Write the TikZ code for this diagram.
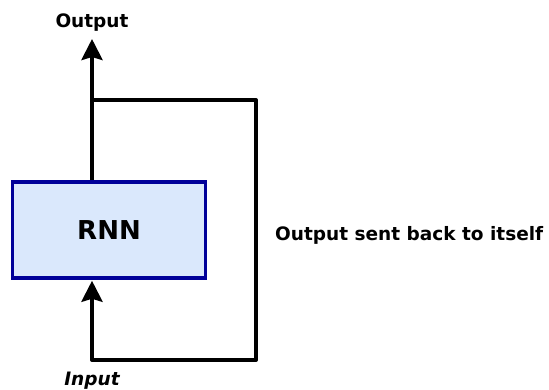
\documentclass[tikz,border=0pt]{standalone}
\usepackage{fontspec}
\setmainfont{DejaVu Sans}
\usetikzlibrary{arrows.meta}
\definecolor{boxfill}{HTML}{DAE8FC}
\definecolor{boxdraw}{HTML}{000099}
\tikzset{
  x=1pt,y=1pt,
  rnnbox/.style={draw=boxdraw,fill=boxfill,line width=3.5pt,minimum width=193pt,minimum height=96pt,inner sep=0pt},
  conn/.style={line width=4pt,black},
  arr/.style={conn,-{Stealth[length=21pt,width=21pt,inset=3pt]}},
  lbl/.style={font=\bfseries\fontsize{18.5}{22}\selectfont,inner sep=0pt}
}
\begin{document}
\begin{tikzpicture}
\useasboundingbox (0,0) rectangle (549,389);
\node[rnnbox] (rnn) at (109,159) {};
\node[font=\bfseries\fontsize{26}{30}\selectfont] at (rnn.center) {RNN};
\coordinate (top) at (92,350);
\coordinate (branch) at (92,289);
\coordinate (tr) at (256,289);
\coordinate (br) at (256,29);
\coordinate (bl) at (92,29);
\node[lbl,anchor=base] (outlbl) at (92,361) {Output};
\node[lbl,anchor=base,font=\bfseries\itshape\fontsize{18.5}{22}\selectfont] (inlbl) at (92,4) {Input};
\node[lbl,anchor=base west] (fb) at (275,149) {Output sent back to itself};
\draw[arr] (rnn.north -| branch) -- (top);
\draw[conn,line join=round] (branch) -- (tr) -- (br) -- (bl) -- ([yshift=-10pt]rnn.south -| bl);
\draw[arr] (bl) -- ([yshift=-1pt]rnn.south -| bl);
\end{tikzpicture}
\end{document}
